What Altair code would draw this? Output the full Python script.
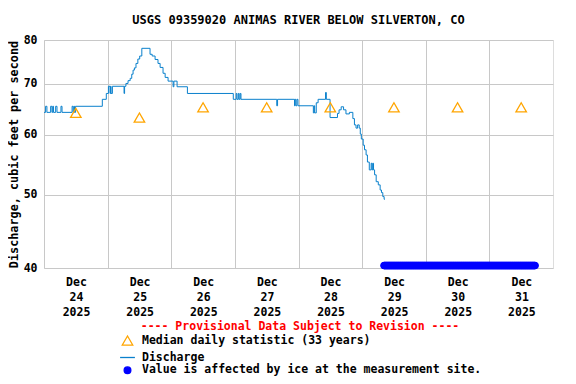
import altair as alt
import pandas as pd

FONT = "DejaVu Sans Mono"

# ---- data ----
start = pd.Timestamp("2025-12-24 00:00")

# discharge breakpoints: hours since Dec 24 00:00, value (cfs); drawn as a step line
q_hours = [0.0, 0.6, 1.1, 2.5, 3.0, 3.3, 3.6, 4.4, 4.9, 6.4, 6.8, 10.6, 11.0, 11.3, 11.5, 11.9,
           22.0, 23.5, 24.3, 24.9, 25.1, 25.3, 25.8, 30.2, 30.4, 30.9, 31.7, 32.5, 33.1, 33.6,
           34.1, 34.7, 35.4, 36.1, 36.9, 40.0, 40.8, 41.9, 43.0, 43.8, 44.9, 45.7, 46.8, 48.7,
           49.0, 50.2, 54.1, 71.4, 72.5, 72.8, 73.3, 73.6, 74.0, 74.3, 87.8, 88.1, 94.5, 94.7,
           95.0, 95.4, 95.8, 101.6, 101.9, 102.1, 102.7, 103.4, 106.2, 106.5, 107.9, 110.7,
           111.3, 112.1, 113.0, 113.9, 115.2, 116.5, 117.1, 117.7, 118.3, 118.9, 119.3, 119.7,
           120.4, 120.9, 121.5, 122.0, 122.7, 123.4, 123.7, 124.0, 124.3, 124.7, 125.3, 126.1,
           126.8, 127.3, 127.8, 128.3, 128.6]
q_values = [64.2, 65.4, 64.2, 65.4, 64.2, 65.4, 64.2, 65.4, 64.2, 65.4, 64.2, 65.4, 64.2, 65.4, 64.2, 65.4,
            66.8, 68.0, 69.5, 68.0, 69.5, 68.0, 69.5, 68.0, 69.5, 70.1, 70.7, 71.2, 72.1, 73.0,
            73.5, 74.5, 75.5, 76.2, 78.0, 76.6, 76.2, 75.4, 74.5, 73.6, 72.3, 71.4, 70.6, 69.4,
            70.6, 69.4, 68.0, 66.8, 68.0, 66.8, 68.0, 66.8, 68.0, 66.8, 65.5, 66.8, 65.5, 66.8,
            65.5, 66.8, 65.5, 64.1, 65.5, 64.1, 66.1, 66.8, 68.2, 66.8, 63.2, 64.0,
            64.7, 65.3, 64.7, 63.9, 64.2, 63.0, 61.8, 61.2, 61.8, 61.2, 60.1, 59.2,
            58.1, 57.3, 56.4, 55.2, 53.9, 55.0, 53.9, 55.0, 53.9, 53.1, 52.0, 51.5,
            50.7, 50.3, 49.7, 49.3, 49.3]

median_days = ["2025-12-24 12:00", "2025-12-25 12:00", "2025-12-26 12:00", "2025-12-27 12:00",
               "2025-12-28 12:00", "2025-12-29 12:00", "2025-12-30 12:00", "2025-12-31 12:00"]
median_values = [64.1, 63.2, 65.2, 65.2, 65.2, 65.2, 65.2, 65.2]

ice_first = "2025-12-29 08:15"
ice_last = "2025-12-31 17:15"
ice_level = 40.3

series_names = ["Median daily statistic (33 years)", "Discharge",
                "Value is affected by ice at the measurement site."]
series_stroke = ["#ffa500", "#0a80cc", "#0000ff"]
series_fill = ["transparent", "transparent", "#0000ff"]
series_shape = ["triangle-up", "stroke", "circle"]
series_size = [110, 220, 45]

y_ticks = [40, 50, 60, 70, 80]
x_days = [24, 25, 26, 27, 28, 29, 30, 31]

# ---- tables ----
q_df = pd.DataFrame({
    "time": [start + pd.Timedelta(hours=h) for h in q_hours],
    "value": q_values,
    "series": series_names[1],
})
med_df = pd.DataFrame({"time": pd.to_datetime(median_days), "value": median_values,
                       "series": series_names[0]})
ice_times = pd.date_range(ice_first, ice_last, freq="15min")
ice_df = pd.DataFrame({"time": ice_times, "value": ice_level, "series": series_names[2]})

for d in (q_df, med_df, ice_df):
    d["time"] = d["time"].dt.strftime("%Y-%m-%dT%H:%M:%S")

xscale = alt.Scale(domain=[alt.DateTime(year=2025, month=12, date=24),
                           alt.DateTime(year=2026, month=1, date=1)])
yscale = alt.Scale(type="log", domain=[40, 80], nice=False)

axis_style = dict(labelFont=FONT, labelFontSize=11.5, labelFontWeight="bold", labelColor="black",
                  titleFont=FONT, titleFontSize=11.8, titleFontWeight="bold", titleColor="black",
                  gridColor="#c8c8c8", gridWidth=1, ticks=False, domain=False, grid=True)

xaxis = alt.Axis(
    values=[alt.DateTime(year=2025, month=12, date=d) for d in x_days],
    labelExpr="[timeFormat(datum.value, '%b'), timeFormat(datum.value, '%d'), timeFormat(datum.value, '%Y')]",
    labelOffset=32, labelFlush=False, labelOverlap=False, labelAlign="center",
    labelBaseline="top", labelPadding=8, labelLineHeight=15, title=None, **axis_style,
)
yaxis = alt.Axis(values=y_ticks, format="d", labelPadding=7,
                 title="Discharge, cubic feet per second", titlePadding=4, **axis_style)

legend = alt.Legend(
    orient="none", legendX=75, legendY=281, direction="vertical",
    title="---- Provisional Data Subject to Revision ----", titleColor="#ff0000",
    titleAnchor="middle", titleFont=FONT, titleFontSize=11.5, titleFontWeight="bold",
    titleLimit=800, titlePadding=2, labelFont=FONT, labelFontSize=11.5, labelFontWeight="bold",
    labelColor="black", labelOffset=6, labelLimit=800, rowPadding=0.5, symbolStrokeWidth=1.3,
    symbolOpacity=1,
)

stroke_enc = alt.Stroke("series:N", scale=alt.Scale(domain=series_names, range=series_stroke),
                        legend=legend)
fill_enc = alt.Fill("series:N", scale=alt.Scale(domain=series_names, range=series_fill),
                    legend=legend)
shape_enc = alt.Shape("series:N", scale=alt.Scale(domain=series_names, range=series_shape),
                      legend=legend)
size_enc = alt.Size("series:N", scale=alt.Scale(type="ordinal", domain=series_names,
                                                range=series_size), legend=legend)

x_enc = alt.X("time:T", scale=xscale, axis=xaxis)
y_enc = alt.Y("value:Q", scale=yscale, axis=yaxis)

line = alt.Chart(q_df).mark_line(interpolate="step-after", strokeWidth=1).encode(
    x=x_enc, y=y_enc, stroke=stroke_enc)

med = alt.Chart(med_df).mark_point(strokeWidth=1.3, opacity=1).encode(
    x=x_enc, y=y_enc, stroke=stroke_enc, fill=fill_enc, shape=shape_enc, size=size_enc)

ice = alt.Chart(ice_df).mark_point(strokeWidth=1, opacity=1).encode(
    x=x_enc, y=y_enc, stroke=stroke_enc, fill=fill_enc, shape=shape_enc, size=size_enc)

chart = alt.layer(line, med, ice).properties(
    width=509, height=228,
    title=alt.TitleParams("USGS 09359020 ANIMAS RIVER BELOW SILVERTON, CO", font=FONT,
                          fontSize=12, fontWeight="bold", anchor="middle", offset=7, color="black"),
    autosize=alt.AutoSizeParams(type="none"),
    padding={"left": 36, "top": 32, "right": 10, "bottom": 108},
).configure_view(stroke="black", strokeWidth=1).configure(background="white")

chart.save("out.html", embed_options={"renderer": "svg", "actions": False})
